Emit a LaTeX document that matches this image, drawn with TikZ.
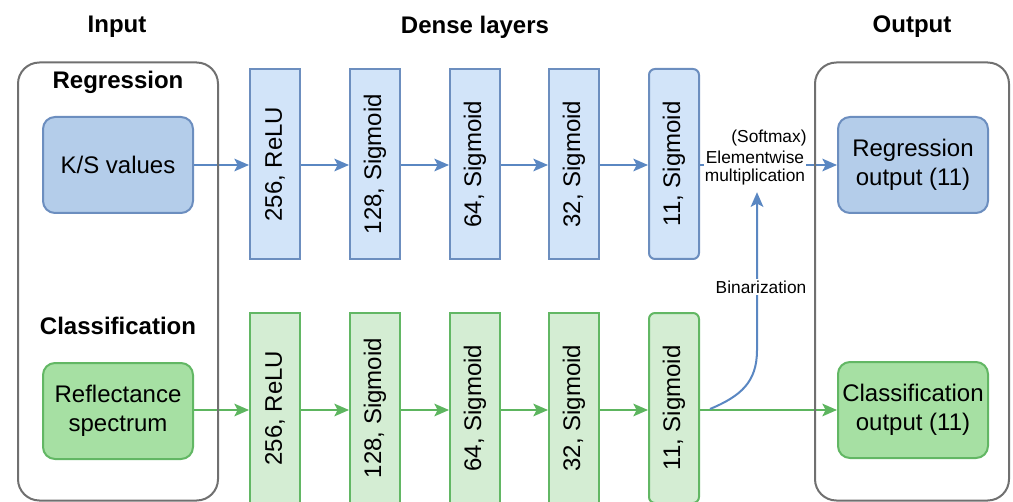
\documentclass[tikz,border=0pt]{standalone}
\usepackage{fontspec}
\setmainfont{Liberation Sans}
\usetikzlibrary{arrows.meta,backgrounds}
\definecolor{bstroke}{HTML}{6C8EBF}
\definecolor{bdark}{HTML}{B4CDEA}
\definecolor{blayer}{HTML}{D2E4F9}
\definecolor{barr}{HTML}{5A87C2}
\definecolor{gstroke}{HTML}{62B764}
\definecolor{gdark}{HTML}{A6E0A3}
\definecolor{glayer}{HTML}{D4EDD3}
\definecolor{garr}{HTML}{5DB55F}
\definecolor{outer}{HTML}{707070}
\begin{document}
\begin{tikzpicture}[x=0.75pt,y=-0.75pt,
  title/.style={font=\fontsize{18}{21.6}\selectfont\bfseries},
  txt/.style={font=\fontsize{18}{21.6}\selectfont, align=center},
  small/.style={font=\fontsize{13}{13.8}\selectfont, align=center, fill=white, inner sep=1pt},
  outerbox/.style={draw=outer, line width=1.5pt, rounded corners=16pt, minimum width=#1, minimum height=328.5pt, inner sep=0pt},
  iobox/.style={txt, line width=1.5pt, rounded corners=9pt, minimum width=112.5pt, minimum height=72pt, inner sep=0pt},
  blue io/.style={iobox, draw=bstroke, fill=bdark},
  green io/.style={iobox, draw=gstroke, fill=gdark},
  layerbox/.style={txt, rotate=90, line width=1.5pt, minimum width=142.5pt, minimum height=37.5pt, inner sep=0pt},
  blayerbox/.style={layerbox, draw=bstroke, fill=blayer},
  glayerbox/.style={layerbox, draw=gstroke, fill=glayer},
  barrow/.style={draw=barr, line width=1.5pt, -{Stealth[length=11pt,width=9.5pt,inset=2.5pt]}},
  garrow/.style={draw=garr, line width=1.5pt, -{Stealth[length=11pt,width=9.5pt,inset=2.5pt]}},
]
\useasboundingbox (0,0) rectangle (1013,502);
\clip (0,0) rectangle (1013,502);

% titles
\node[title] (tin) at (117,27) {Input};
\node[title] (tdense) at (475,27) {Dense layers};
\node[title] (tout) at (912,27) {Output};

% outer boxes
\node[outerbox=150pt] (inbox) at (118,281.5) {};
\node[outerbox=145.5pt] (outbox) at (912,281.5) {};

\node[title] (treg) at (118,82) {Regression};
\node[title] (tcls) at (118,326) {Classification};

% input boxes
\node[blue io] (ks) at (118,165) {K/S values};
\node[green io] (refl) at (118,411) {Reflectance\\spectrum};

% output boxes
\node[blue io] (regout) at (913,165) {Regression\\output (11)};
\node[green io] (clsout) at (913,410) {Classification\\output (11)};

% blue layers (rotated: north = left side, south = right side)
\node[blayerbox] (b1) at (275,164) {256, ReLU};
\node[blayerbox] (b2) at (375,164) {128, Sigmoid};
\node[blayerbox] (b3) at (475,164) {64, Sigmoid};
\node[blayerbox] (b4) at (574,164) {32, Sigmoid};
\node[blayerbox, rounded corners=4.5pt] (b5) at (674,164) {11, Sigmoid};

% green layers
\node[glayerbox] (g1) at (275,408) {256, ReLU};
\node[glayerbox] (g2) at (375,408) {128, Sigmoid};
\node[glayerbox] (g3) at (475,408) {64, Sigmoid};
\node[glayerbox] (g4) at (574,408) {32, Sigmoid};
\node[glayerbox, rounded corners=4.5pt] (g5) at (674,408) {11, Sigmoid};

% labels
\node[small] (elem) at (755,168) {Elementwise\\multiplication};
\node[small, fill=none] (soft) at (769,138) {(Softmax)};
\node[small] (bin) at (761,287) {Binarization};

\coordinate (split) at (710,409);
\coordinate (bend) at (757,350);
\coordinate (elemtip) at ([yshift=-4pt]elem.south);

\begin{pgfonlayer}{background}
% blue chain
\draw[barrow] (ks.east) -- (ks.east -| b1.north);
\draw[barrow] (b1.south |- ks) -- (b2.north |- ks);
\draw[barrow] (b2.south |- ks) -- (b3.north |- ks);
\draw[barrow] (b3.south |- ks) -- (b4.north |- ks);
\draw[barrow] (b4.south |- ks) -- (b5.north |- ks);
\draw[barrow] (b5.south |- ks) -- (regout.west);
% green chain
\draw[garrow] (refl.east |- clsout) -- (g1.north |- clsout);
\draw[garrow] (g1.south |- clsout) -- (g2.north |- clsout);
\draw[garrow] (g2.south |- clsout) -- (g3.north |- clsout);
\draw[garrow] (g3.south |- clsout) -- (g4.north |- clsout);
\draw[garrow] (g4.south |- clsout) -- (g5.north |- clsout);
\draw[garrow] (g5.south |- clsout) -- (clsout.west);
% binarization path
\draw[barrow] (split) .. controls (741,396) and (757,382) .. (bend) -- (bend |- elemtip);
\end{pgfonlayer}
\end{tikzpicture}
\end{document}
